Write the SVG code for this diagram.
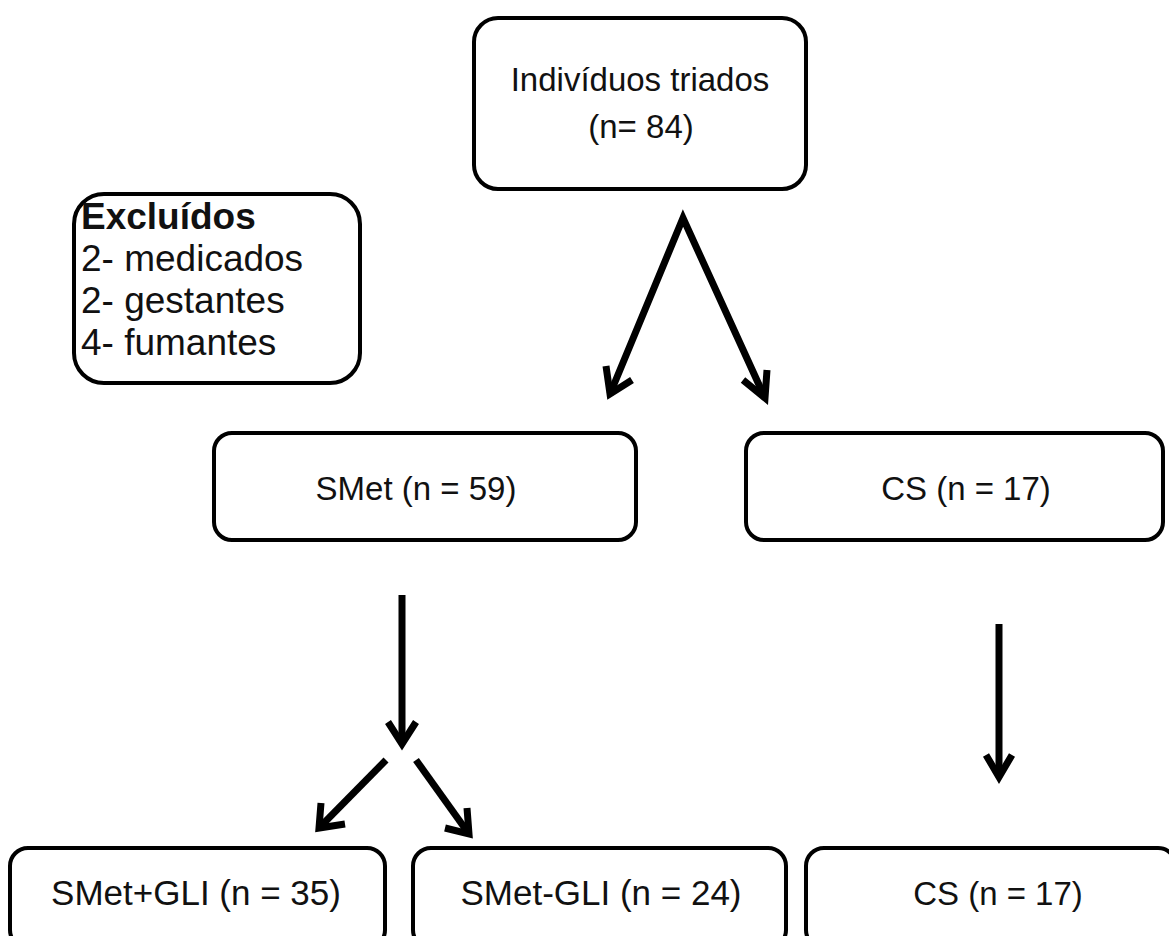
<svg xmlns="http://www.w3.org/2000/svg" width="1169" height="936" viewBox="0 0 1169 936">
<defs>
<style>
.box{fill:#fff;stroke:#000;stroke-width:4}
.t{font-family:"Liberation Sans",Arial,sans-serif;font-size:33px;fill:#111;text-anchor:middle}
.b{font-size:35px}
.tl{font-family:"Liberation Sans",Arial,sans-serif;font-size:37px;fill:#111}
.ln{stroke:#000;stroke-width:7;fill:none;stroke-linecap:butt}
.hd{stroke:#000;stroke-width:7;fill:none;stroke-linejoin:miter;stroke-linecap:butt}
</style>
</defs>
<rect width="1169" height="936" fill="#fff"/>
<g id="triados">
<rect class="box" x="474" y="18" width="332" height="171" rx="24"/>
<text class="t" x="640" y="91" font-size="29">Indivíduos triados</text>
<text class="t" x="641" y="138" font-size="30">(n= 84)</text>
</g>
<g id="excluidos">
<rect class="box" x="74" y="194" width="286" height="189" rx="30"/>
<text class="tl" x="81" y="229" font-weight="bold">Excluídos</text>
<text class="tl" x="81" y="271">2- medicados</text>
<text class="tl" x="81" y="313">2- gestantes</text>
<text class="tl" x="81" y="355">4- fumantes</text>
</g>
<g id="smet">
<rect class="box" x="214" y="433" width="422" height="107" rx="18"/>
<text class="t" x="416" y="500">SMet (n = 59)</text>
</g>
<g id="cs1">
<rect class="box" x="746" y="433" width="417" height="107" rx="18"/>
<text class="t" x="966" y="500">CS (n = 17)</text>
</g>
<g id="smetgli_pos">
<rect class="box" x="10" y="848" width="375" height="100" rx="18"/>
<text class="t b" x="196" y="905">SMet+GLI  (n = 35)</text>
</g>
<g id="smetgli_neg">
<rect class="box" x="413" y="848" width="373" height="100" rx="18"/>
<text class="t b" x="601" y="905">SMet-GLI  (n = 24)</text>
</g>
<g id="cs2">
<rect class="box" x="806" y="848" width="370" height="100" rx="18"/>
<text class="t" x="998" y="905" font-size="34">CS (n = 17)</text>
</g>
<g id="connectors">
<path class="ln" d="M610 394 L683 218 L765 398"/>
<path class="hd" d="M606 366 L610 394 L632 380"/>
<path class="hd" d="M743 380 L765 398 L767 370"/>
<line class="ln" x1="402" y1="595" x2="402" y2="744"/>
<path class="hd" d="M388 722 L402 744 L416 722"/>
<line class="ln" x1="386" y1="760" x2="319" y2="828"/>
<path class="hd" d="M321 803 L319 828 L345 824"/>
<line class="ln" x1="416" y1="760" x2="469" y2="834"/>
<path class="hd" d="M445 828 L469 834 L467 808"/>
<line class="ln" x1="999" y1="624" x2="999" y2="777"/>
<path class="hd" d="M986 755 L999 777 L1012 755"/>
</g>
</svg>
